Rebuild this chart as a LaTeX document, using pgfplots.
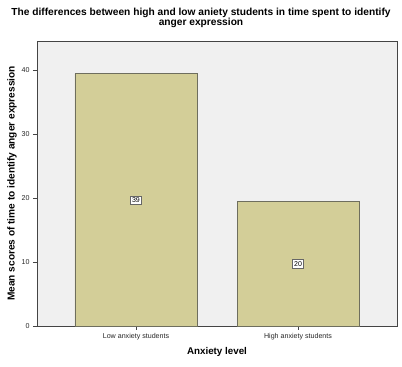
\documentclass[border=0pt]{standalone}
\usepackage{fontspec}
\setmainfont{Liberation Sans}
\usepackage{pgfplots}
\pgfplotsset{compat=1.18}
\definecolor{bgc}{HTML}{F0F0F0}
\definecolor{barc}{HTML}{D3CE98}
\definecolor{barl}{HTML}{6E6E5E}
\definecolor{axc}{HTML}{444444}
\begin{document}
\begin{tikzpicture}[x=1pt,y=1pt]
\path[use as bounding box] (0,0) rectangle (402,367);
\node[align=center,font=\fontsize{10.2}{10.6}\selectfont\bfseries] at (201,349) {The differences between high and low aniety students in time spent to identify\\anger expression};
\begin{axis}[
  at={(37pt,41pt)}, anchor=south west,
  scale only axis, width=360pt, height=285pt,
  xmin=-0.611, xmax=1.611, ymin=0, ymax=44.5,
  axis background/.style={fill=bgc},
  axis line style={draw=axc},
  xtick={0,1}, xticklabels={Low anxiety students, High anxiety students},
  ytick={0,10,20,30,40},
  tick align=outside, tick pos=left,
  major tick length=4pt,
  tick style={draw=axc},
  xticklabel style={font=\fontsize{7.1}{8}\selectfont, color=black!85},
  yticklabel style={font=\fontsize{7.1}{8}\selectfont, color=black!85},
  /pgf/number format/assume math mode=true,
  xlabel={Anxiety level},
  ylabel={Mean scores of time to identify anger expression},
  xlabel style={font=\fontsize{9.8}{11}\selectfont\bfseries, at={(axis description cs:0.5,-0.091)}, anchor=center},
  ylabel style={font=\fontsize{10.1}{11}\selectfont\bfseries, at={(axis description cs:-0.069,0.5)}, anchor=center},
  clip=false,
]
\addplot[ybar, bar width=0.753, fill=barc, draw=barl, line width=0.8pt] coordinates {(0,39.4) (1,19.5)};
\addplot[only marks, mark=none, nodes near coords, point meta=explicit symbolic,
  nodes near coords style={anchor=center, fill=white, draw=black!60, line width=0.6pt, inner sep=1.6pt, font=\fontsize{7}{8}\selectfont}]
  coordinates {(0,19.6) [39] (1,9.7) [20]};
\end{axis}
\end{tikzpicture}
\end{document}
